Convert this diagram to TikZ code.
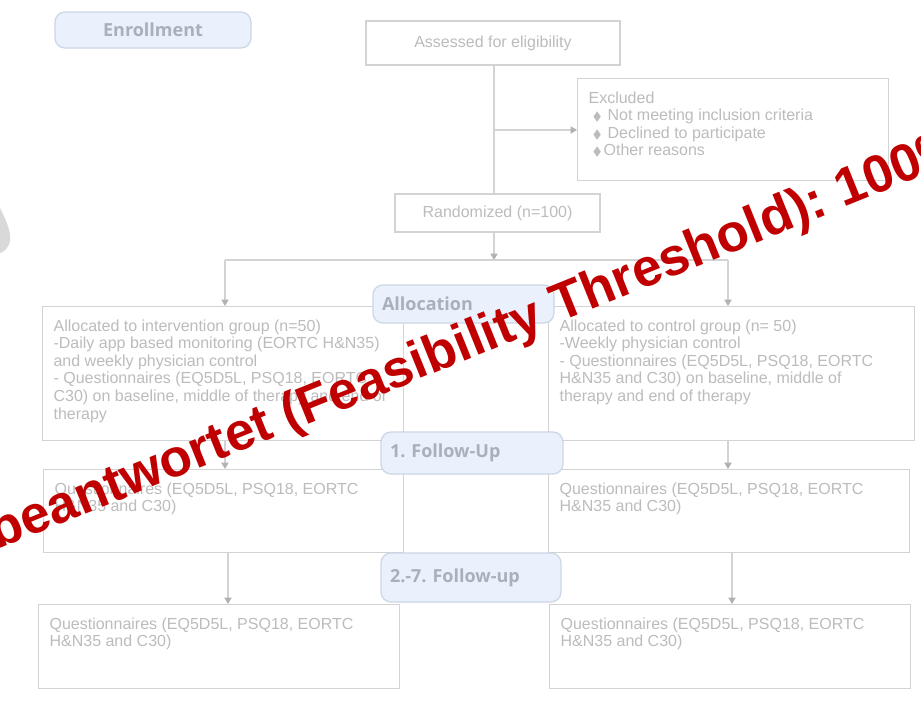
\documentclass[tikz,border=0pt]{standalone}
\usepackage{amssymb}
\usepackage{fontspec}
\setmainfont{Liberation Sans}
\newfontfamily\tagfont{Open Sans}
\usetikzlibrary{arrows.meta}
\definecolor{boxline}{HTML}{D3D3D3}
\definecolor{boxtext}{HTML}{BCBCBC}
\definecolor{tagfill}{HTML}{EAF1FC}
\definecolor{tagline}{HTML}{CBD6E7}
\definecolor{tagtext}{HTML}{AAB0BA}
\definecolor{tipgrey}{HTML}{B2B2B2}
\definecolor{stampred}{HTML}{C00000}
\newcommand{\boxtxt}[3]{\parbox[t][#2][t]{#1}{\raggedright #3}}
\newcommand{\dia}{$\scriptstyle\blacklozenge$}
\frenchspacing
\tikzset{%
    box/.style={draw=boxline,line width=0.6pt,rectangle,anchor=north west,
        inner xsep=5.5pt,inner ysep=6.5pt,text=boxtext,
        font=\fontsize{8}{8.8}\selectfont},
    tag/.style={draw=tagline,fill=tagfill,line width=0.6pt,rounded corners=5pt,
        inner xsep=4.5pt,inner ysep=0pt,text=tagtext,align=left,
        font=\tagfont\bfseries\fontsize{9}{10}\selectfont}
}

\begin{document}
\begin{tikzpicture}[x=0.5pt,y=-0.5pt,
            edge/.style={draw=boxline,line width=0.6pt},
            arrow/.style={edge,-{Triangle[length=3.2pt,width=3.6pt,color=tipgrey]}}
            ]
            \useasboundingbox (0,0) rectangle (921,723);
            \clip (0,0) rectangle (921,723);
            \fill[white] (0,0) rectangle (921,723);
            % grey shape cut by the left edge
            \fill[black!15] (0,208) .. controls (6,220) and (11,231) .. (10,240)
                .. controls (9,248) and (4,252) .. (0,253) -- cycle;
            % boxes
            \node[box,anchor=center,minimum width=127pt,minimum height=22pt,inner sep=0pt] (assess) at (493,43) {\raisebox{1pt}{Assessed for eligibility}};
            \node[box] (excl) at (577,78) {\boxtxt{144.5pt}{38pt}{Excluded\\
                \makebox[9.5pt][l]{\hspace{2pt}\dia}Not meeting inclusion criteria\\
                \makebox[9.5pt][l]{\hspace{2pt}\dia}Declined to participate\\
                \makebox[7.5pt][l]{\hspace{2pt}\dia}Other reasons}};
            \node[box,anchor=center,minimum width=102.5pt,minimum height=19pt,inner sep=0pt] (rand) at (497.5,213) {Randomized (n=100)};
            \node[box] (allocL) at (42,306) {\boxtxt{169.5pt}{54pt}{Allocated to intervention group (n=50)\\
                -Daily app based monitoring (EORTC H\&N35)\\
                and weekly physician control\\
                - Questionnaires (EQ5D5L, PSQ18, EORTC\\
                C30) on baseline, middle of therapy and end of\\
                therapy}};
            \node[box] (allocR) at (548,306) {\boxtxt{172pt}{54pt}{Allocated to control group (n= 50)\\
                -Weekly physician control\\
                - Questionnaires (EQ5D5L, PSQ18, EORTC\\
                H\&N35 and C30) on baseline, middle of\\
                therapy and end of therapy}};
            \node[box] (fu1L) at (43,469) {\boxtxt{169pt}{28.5pt}{Questionnaires (EQ5D5L, PSQ18, EORTC\\ H\&N35 and C30)}};
            \node[box] (fu1R) at (548,469) {\boxtxt{169.5pt}{28.5pt}{Questionnaires (EQ5D5L, PSQ18, EORTC\\ H\&N35 and C30)}};
            \node[box] (fu2L) at (38,604) {\boxtxt{169.5pt}{29pt}{Questionnaires (EQ5D5L, PSQ18, EORTC\\ H\&N35 and C30)}};
            \node[box] (fu2R) at (549,604) {\boxtxt{169.5pt}{29pt}{Questionnaires (EQ5D5L, PSQ18, EORTC\\ H\&N35 and C30)}};
            % connectors
            \coordinate (bx) at (494,130);
            \coordinate (split) at (494,260);
            \coordinate (sl) at (225,260);
            \coordinate (sr) at (728,260);
            \coordinate (ml) at (228,560);
            \coordinate (mr) at (732,560);
            \draw[edge] (assess.south -| bx) -- (bx |- rand.north);
            \draw[arrow] (bx) -- (bx -| excl.west);
            \draw[arrow] (bx |- rand.south) -- (split);
            \draw[edge] (sl) -- (sr);
            \draw[arrow] (sl) -- (sl |- allocL.north);
            \draw[arrow] (sr) -- (sr |- allocR.north);
            \draw[arrow] (sl |- allocL.south) -- (sl |- fu1L.north);
            \draw[arrow] (sr |- allocR.south) -- (sr |- fu1R.north);
            \draw[arrow] (ml |- fu1L.south) -- (ml |- fu2L.north);
            \draw[arrow] (mr |- fu1R.south) -- (mr |- fu2R.north);
            % stage tags
            \node[tag,align=center,minimum width=98pt,minimum height=18pt] (enroll) at (153,30) {Enrollment};
            \node[tag,text width=81.5pt,minimum height=19pt] (alloc) at (463.5,304) {Allocation};
            \node[tag,text width=82pt,minimum height=21pt] (fup1) at (472,453) {1. Follow-Up};
            \node[tag,text width=81pt,minimum height=24.5pt] (fup2) at (471,577.5) {2.-7. Follow-up};
            % stamp
            \node[rotate=22,anchor=base west,inner sep=0pt,text=stampred,
                font=\bfseries\fontsize{26.5}{30}\selectfont] (stamp) at (-3,550)
                {beantwortet (Feasibility Threshold): 100\%};
        \end{tikzpicture}
\end{document}
